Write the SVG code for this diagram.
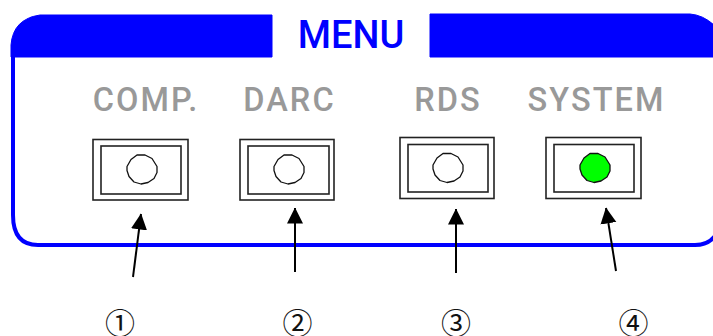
<svg xmlns="http://www.w3.org/2000/svg" width="713" height="336" viewBox="0 0 713 336">
<style>
.bar{fill:#00f;stroke:#00f;stroke-width:1;stroke-linejoin:round}
.frame{fill:none;stroke:#00f;stroke-width:4}
.box{fill:#fff;stroke:#222;stroke-width:1.6}
.led{fill:#fff;stroke:#111;stroke-width:1.3;stroke-linejoin:round}
.on{fill:#0f0}
.lbl{font-family:Roboto,"Liberation Sans",sans-serif;font-weight:500;font-size:32.500px;fill:#999;text-anchor:middle;letter-spacing:2.100px}
.title{font-family:Roboto,"Liberation Sans",sans-serif;font-weight:500;font-size:38px;fill:#00f;text-anchor:middle}
.num{font-family:"Noto Sans CJK JP",sans-serif;font-size:30px;fill:#111;text-anchor:middle}
.arr{stroke:#000;stroke-width:2;fill:none;marker-end:url(#a)}
</style>
<defs>
<marker id="a" markerUnits="userSpaceOnUse" markerWidth="16" markerHeight="17" refX="15.500" refY="8" orient="auto"><path d="M0,0L16,8L0,16Z" fill="#000"/></marker>
<polygon id="ledshape" points="-15,-3 -11,-10 -5,-14.500 3,-14.500 10,-11 15,-3 15,3 12,9 6,13 -1,14.500 -8,12.500 -13,7 -15,1"/>
</defs>
<g id="panel">
<path class="frame" d="M13,56V215Q13,245 38,245H695Q708,245 715,236"/>
<path class="bar" d="M11,57V45Q13,19 40,15H272V57Z"/>
<path class="bar" d="M430,57V14H690Q703,15 714,25V57Z"/>
<text class="title" x="351" y="47.500">MENU</text>
</g>
<g id="btn1">
<text class="lbl" x="146" y="110.500">COMP.</text>
<rect class="box" x="93" y="139.500" width="95" height="60.500"/>
<rect class="box" x="101" y="146" width="80" height="48"/>
<use href="#ledshape" class="led" x="142" y="169.500"/>
</g>
<g id="btn2">
<text class="lbl" x="289.500" y="110.500">DARC</text>
<rect class="box" x="240" y="139.500" width="94" height="60.500"/>
<rect class="box" x="248" y="146" width="81" height="48"/>
<use href="#ledshape" class="led" x="289" y="169.500"/>
</g>
<g id="btn3">
<text class="lbl" x="448" y="110.500">RDS</text>
<rect class="box" x="400" y="137.500" width="94" height="61"/>
<rect class="box" x="408" y="144.500" width="80" height="47.500"/>
<use href="#ledshape" class="led" x="448" y="168"/>
</g>
<g id="btn4">
<text class="lbl" x="596.500" y="110.500">SYSTEM</text>
<rect class="box" x="546" y="137.500" width="95" height="61"/>
<rect class="box" x="554" y="144.500" width="80" height="47.500"/>
<use href="#ledshape" class="led on" x="595" y="168"/>
</g>
<g id="connectors">
<path class="arr" d="M133,277L141,214"/>
<path class="arr" d="M295,272V208"/>
<path class="arr" d="M456,273V209"/>
<path class="arr" d="M616,271L606,208"/>
</g>
<g id="numbers">
<text class="num" x="120" y="334">①</text>
<text class="num" x="297.500" y="334">②</text>
<text class="num" x="456" y="334">③</text>
<text class="num" x="633.500" y="334">④</text>
</g>
</svg>
